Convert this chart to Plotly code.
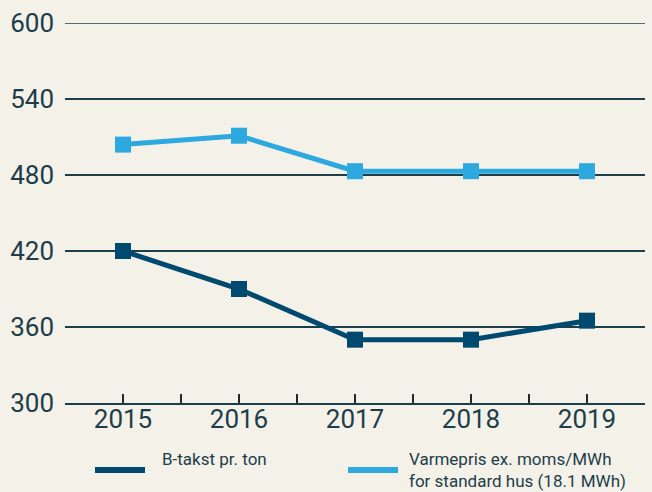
import plotly.graph_objects as go

years = [2015, 2016, 2017, 2018, 2019]
b_takst = [420, 390, 350, 350, 365]
varmepris = [504, 511, 483, 483, 483]
y_ticks = [300, 360, 420, 480, 540, 600]
series_names = ["B-takst pr. ton", "Varmepris ex. moms/MWh<br>for standard hus (18.1 MWh)"]

bg = "#F4F1E9"
txt = "#1C3D4A"
dark = "#004A70"
light = "#2EA9E0"
colors = [dark, light]

W, H = 652, 492
L, R, T, B = 65, 7, 23, 89
pw, ph = W - L - R, H - T - B
def px(x): return (x - L) / pw
def py(y): return (H - B - y) / ph

fig = go.Figure()
for name, vals, col in zip(series_names, [b_takst, varmepris], colors):
    fig.add_trace(go.Scatter(x=years, y=vals, mode="lines+markers", name=name, showlegend=False,
                             line=dict(color=col, width=5),
                             marker=dict(symbol="square", size=16, color=col)))

fig.add_hline(y=y_ticks[-1], line=dict(color=txt, width=1.5))

# manual legend
legend_pos = [(95, 160), (348, 407)]
for (lx, tx), name, col in zip(legend_pos, series_names, colors):
    fig.add_shape(type="line", xref="paper", yref="paper", x0=px(lx), x1=px(lx + 50),
                  y0=py(470), y1=py(470), line=dict(color=col, width=6))
    fig.add_annotation(xref="paper", yref="paper", x=px(tx), y=py(447), xanchor="left", yanchor="top",
                       text=name, showarrow=False, align="left",
                       font=dict(size=17, color=txt, family="Roboto"))

half_ticks = [2014.5 + 0.5 * i for i in range(11)]
fig.update_layout(
    width=W, height=H,
    paper_bgcolor=bg, plot_bgcolor=bg,
    margin=dict(l=L, r=R, t=T, b=B, autoexpand=False),
    font=dict(family="Roboto", color=txt),
    showlegend=False,
    xaxis=dict(range=[2014.5, 2019.5], tickvals=half_ticks,
               ticktext=[str(int(v)) if v == int(v) else "" for v in half_ticks],
               ticks="inside", ticklen=9, tickwidth=2, tickcolor="#2A2624",
               showgrid=False, zeroline=False, showline=True, linecolor="#1C3D4A", linewidth=2,
               tickfont=dict(size=26, color=txt), fixedrange=True, automargin=False,
               ticklabelstandoff=-8),
    yaxis=dict(range=[300, 600], tickvals=y_ticks, showgrid=True, gridcolor=txt, gridwidth=1.5,
               zeroline=False, showline=False, ticks="", ticklabelstandoff=10,
               tickfont=dict(size=26, color=txt), fixedrange=True, automargin=False),
)
fig.write_html("out.html", config={"displayModeBar": False},
               post_script="document.body.style.margin='0';document.body.style.background='#F4F1E9';")
